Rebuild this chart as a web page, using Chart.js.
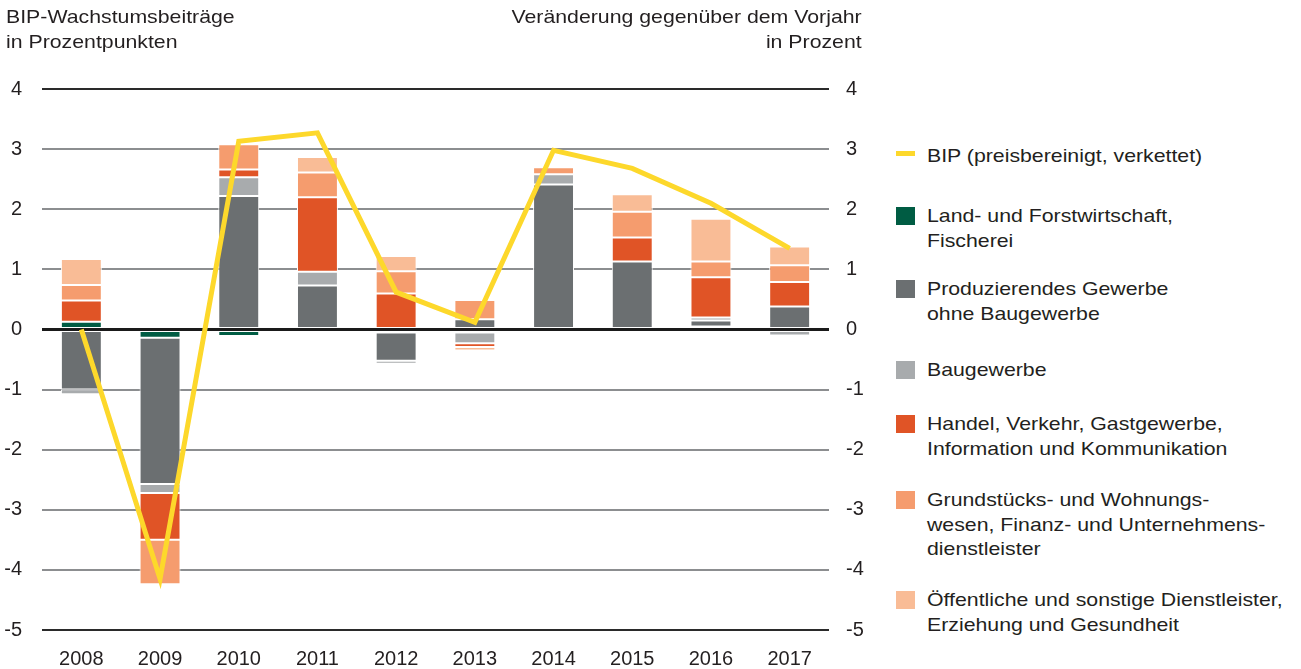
<!DOCTYPE html>
<html lang="de">
<head>
<meta charset="utf-8">
<script src="https://cdn.jsdelivr.net/npm/chart.js@4"></script>
<style>
  body { margin: 0; background: #fff; font-family: "Liberation Sans", Arial, sans-serif; color: #231f20; }
  #wrap { position: relative; width: 1301px; height: 669px; overflow: hidden; }
  canvas { position: absolute; left: 0; top: 0; }
  .t { position: absolute; font-size: 19px; line-height: 25px; white-space: nowrap; transform: scaleX(1.12); transform-origin: left top; }
  .t.r { transform-origin: right top; text-align: right; }
  .sw { position: absolute; left: 896px; width: 19px; height: 18px; }
</style>
</head>
<body>
<div id="wrap">
  <canvas id="chart" width="870" height="669"></canvas>
  <div class="t" style="left:6px;top:4px;">BIP-Wachstumsbeiträge<br>in Prozentpunkten</div>
  <div class="t r" style="right:439px;top:4px;">Veränderung gegenüber dem Vorjahr<br>in Prozent</div>
</div>
<script>
const years = ["2008", "2009", "2010", "2011", "2012", "2013", "2014", "2015", "2016", "2017"];

// Wachstumsbeiträge in Prozentpunkten
const land   = [0.13, -0.14, -0.11, 0, -0.05, -0.05, 0, 0, 0.05, 0];
const prod   = [-1.0, -2.43, 2.22, 0.73, -0.47, 0.17, 2.41, 1.13, 0.1, 0.38];
const bau    = [-0.08, -0.15, 0.31, 0.23, -0.05, -0.18, 0.17, -0.05, 0.05, -0.1];
const handel = [0.35, -0.78, 0.13, 1.24, 0.6, -0.06, 0, 0.4, 0.67, 0.41];
const grund  = [0.26, -0.74, 0.42, 0.41, 0.37, 0.32, 0.12, 0.43, 0.26, 0.28];
const oeff   = [0.43, 0, 0, 0.26, 0.25, -0.06, -0.05, 0.29, 0.71, 0.31];

// BIP Veränderung gegenüber Vorjahr in %
const bip = [0.0, -4.15, 3.13, 3.27, 0.62, 0.12, 2.98, 2.68, 2.1, 1.35];

const yTicks = [-5, -4, -3, -2, -1, 0, 1, 2, 3, 4];

const legendItems = [
  { lines: ["BIP (preisbereinigt, verkettet)"], color: "#fdd82b", line: true, center: 156 },
  { lines: ["Land- und Forstwirtschaft,", "Fischerei"], color: "#005c43", center: 216 },
  { lines: ["Produzierendes Gewerbe", "ohne Baugewerbe"], color: "#6b6f71", center: 289 },
  { lines: ["Baugewerbe"], color: "#a8abad", center: 370 },
  { lines: ["Handel, Verkehr, Gastgewerbe,", "Information und Kommunikation"], color: "#e05426", center: 424 },
  { lines: ["Grundstücks- und Wohnungs-", "wesen, Finanz- und Unternehmens-", "dienstleister"], color: "#f59c6e", center: 500 },
  { lines: ["Öffentliche und sonstige Dienstleister,", "Erziehung und Gesundheit"], color: "#f9bc96", center: 600 }
];

const wrap = document.getElementById("wrap");
legendItems.forEach(it => {
  const sw = document.createElement("div");
  sw.className = "sw";
  sw.style.background = it.color;
  if (it.line) {
    sw.style.height = "5px";
    sw.style.top = (it.center - 5) + "px";
  } else {
    sw.style.top = (it.center - 9) + "px";
  }
  wrap.appendChild(sw);
  const tx = document.createElement("div");
  tx.className = "t";
  tx.style.left = "927px";
  tx.style.lineHeight = "24.5px";
  tx.style.top = (it.center - 12) + "px";
  tx.innerHTML = it.lines.join("<br>");
  wrap.appendChild(tx);
});

const zeroLine = {
  id: "zeroLine",
  beforeDatasetDraw(chart, args) {
    if (args.meta.type !== "line") return;
    const y = chart.scales.y.getPixelForValue(0);
    const a = chart.chartArea;
    const ctx = chart.ctx;
    ctx.save();
    ctx.strokeStyle = "#1a1a1a";
    ctx.lineWidth = 3;
    ctx.beginPath();
    ctx.moveTo(a.left, y);
    ctx.lineTo(a.right, y);
    ctx.stroke();
    ctx.restore();
  }
};

const bar = (label, data, color) => ({
  type: "bar",
  label,
  data,
  backgroundColor: color,
  borderColor: "#ffffff",
  borderWidth: 1,
  borderSkipped: false,
  barPercentage: 0.52,
  categoryPercentage: 1,
  yAxisID: "y",
  order: 1
});

const font = { family: "'Liberation Sans', Arial, sans-serif", size: 20 };

new Chart(document.getElementById("chart"), {
  data: {
    labels: years,
    datasets: [
      bar("Land- und Forstwirtschaft, Fischerei", land, "#005c43"),
      bar("Produzierendes Gewerbe ohne Baugewerbe", prod, "#6b6f71"),
      bar("Baugewerbe", bau, "#a8abad"),
      bar("Handel, Verkehr, Gastgewerbe, Information und Kommunikation", handel, "#e05426"),
      bar("Grundstücks- und Wohnungswesen, Finanz- und Unternehmensdienstleister", grund, "#f59c6e"),
      bar("Öffentliche und sonstige Dienstleister, Erziehung und Gesundheit", oeff, "#f9bc96"),
      {
        type: "line",
        label: "BIP (preisbereinigt, verkettet)",
        data: bip,
        borderColor: "#fdd82b",
        borderWidth: 5,
        pointRadius: 0,
        tension: 0,
        borderJoinStyle: "miter",
        yAxisID: "y2",
        order: 0
      }
    ]
  },
  options: {
    responsive: false,
    animation: false,
    layout: { padding: { top: 89, left: 0, right: 0, bottom: 0 } },
    plugins: { legend: { display: false }, tooltip: { enabled: false } },
    scales: {
      x: {
        stacked: true,
        grid: { display: false },
        border: { display: false },
        ticks: { font, color: "#231f20", padding: 9 },
        afterFit(s) { s.height = 39; }
      },
      y: {
        stacked: true,
        position: "left",
        min: -5,
        max: 4,
        afterBuildTicks(s) { s.ticks = yTicks.map(v => ({ value: v })); },
        ticks: { font, color: "#231f20", padding: 20 },
        grid: {
          drawTicks: false,
          color: c => (c.tick.value === 4 || c.tick.value === -5) ? "#2a2a2a" : (c.tick.value === 0 ? "#1a1a1a" : "#8c8e90"),
          lineWidth: c => c.tick.value === 0 ? 3 : 2
        },
        border: { display: false },
        afterFit(s) { s.width = 42; }
      },
      y2: {
        position: "right",
        min: -5,
        max: 4,
        afterBuildTicks(s) { s.ticks = yTicks.map(v => ({ value: v })); },
        ticks: { font, color: "#231f20", padding: 17 },
        grid: { display: false, drawTicks: false },
        border: { display: false },
        afterFit(s) { s.width = 41; }
      }
    }
  },
  plugins: [zeroLine]
});
</script>
</body>
</html>
